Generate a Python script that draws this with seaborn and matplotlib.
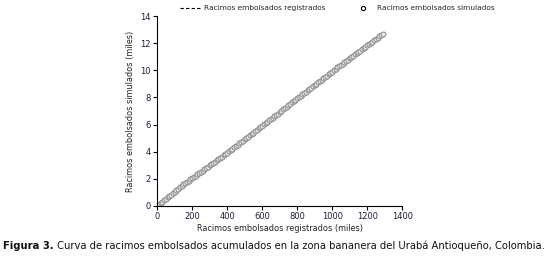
import matplotlib
matplotlib.use("Agg")
import matplotlib.pyplot as plt
import seaborn as sns
import pandas as pd
from matplotlib.lines import Line2D

# --- data (thousands of bunches) ---
sim_x = [0, 10, 20, 30, 40, 50, 60, 70, 80, 90, 100, 110, 120, 130, 140, 150, 160, 170, 180, 190,
         200, 210, 220, 230, 240, 250, 260, 270, 280, 290, 300, 310, 320, 330, 340, 350, 360, 370, 380, 390,
         400, 410, 420, 430, 440, 450, 460, 470, 480, 490, 500, 510, 520, 530, 540, 550, 560, 570, 580, 590,
         600, 610, 620, 630, 640, 650, 660, 670, 680, 690, 700, 710, 720, 730, 740, 750, 760, 770, 780, 790,
         800, 810, 820, 830, 840, 850, 860, 870, 880, 890, 900, 910, 920, 930, 940, 950, 960, 970, 980, 990,
         1000, 1010, 1020, 1030, 1040, 1050, 1060, 1070, 1080, 1090, 1100, 1110, 1120, 1130, 1140, 1150,
         1160, 1170, 1180, 1190, 1200, 1210, 1220, 1230, 1240, 1250, 1260, 1270, 1280, 1290]
sim_y = [0.00, 0.11, 0.21, 0.31, 0.42, 0.52, 0.62, 0.73, 0.84, 0.95, 1.06, 1.17, 1.28, 1.38, 1.48, 1.58,
         1.68, 1.77, 1.87, 1.97, 2.06, 2.15, 2.24, 2.33, 2.43, 2.52, 2.61, 2.70, 2.80, 2.89, 2.98, 3.07,
         3.17, 3.26, 3.35, 3.45, 3.55, 3.64, 3.73, 3.83, 3.93, 4.03, 4.12, 4.22, 4.32, 4.42, 4.52, 4.62,
         4.71, 4.81, 4.91, 5.01, 5.11, 5.21, 5.31, 5.41, 5.51, 5.61, 5.71, 5.81, 5.91, 6.01, 6.11, 6.21,
         6.31, 6.41, 6.51, 6.61, 6.71, 6.81, 6.92, 7.02, 7.13, 7.23, 7.33, 7.43, 7.53, 7.63, 7.73, 7.83,
         7.93, 8.03, 8.13, 8.22, 8.32, 8.42, 8.52, 8.62, 8.72, 8.81, 8.91, 9.01, 9.11, 9.21, 9.31, 9.41,
         9.51, 9.61, 9.71, 9.81, 9.91, 10.01, 10.11, 10.21, 10.31, 10.41, 10.50, 10.60, 10.69, 10.79,
         10.88, 10.98, 11.07, 11.17, 11.26, 11.36, 11.45, 11.55, 11.64, 11.74, 11.83, 11.93, 12.02,
         12.12, 12.21, 12.31, 12.40, 12.50, 12.60, 12.69]
reg_x = [0, 1290]
reg_y = [0.0, 12.72]

x_ticks = [0, 200, 400, 600, 800, 1000, 1200, 1400]
y_ticks = [0, 2, 4, 6, 8, 10, 12, 14]

sns.set_style("ticks")
plt.rcParams["font.family"] = ["DejaVu Sans"]

fig = plt.figure(figsize=(5.51, 2.59), dpi=100)
ax = fig.add_axes([0.285, 0.205, 0.445, 0.733])

df_sim = pd.DataFrame({"x": sim_x, "y": sim_y})
df_reg = pd.DataFrame({"x": reg_x, "y": reg_y})

sns.lineplot(data=df_reg, x="x", y="y", ax=ax, color="black", linestyle="--",
             linewidth=0.8, zorder=1)
sns.scatterplot(data=df_sim, x="x", y="y", ax=ax, marker="o", s=13,
                facecolor="#e6e6e6", edgecolor="#8a8a8a", linewidth=0.7, zorder=2)

ax.set_xlim(0, 1400)
ax.set_ylim(0, 14)
ax.set_xticks(x_ticks)
ax.set_yticks(y_ticks)
ax.tick_params(axis="both", direction="out", length=3, width=0.8, labelsize=6,
               pad=1.5, colors="black")
ax.tick_params(labelcolor="#1c1c3c")
for s in ["top", "right"]:
    ax.spines[s].set_visible(False)
for s in ["left", "bottom"]:
    ax.spines[s].set_linewidth(0.8)
    ax.spines[s].set_color("black")

ax.set_xlabel("Racimos embolsados registrados (miles)", fontsize=5.9, labelpad=2, color="#222222")
ax.set_ylabel("Racimos embolsados simulados (miles)", fontsize=5.9, labelpad=4, color="#222222")

handles = [Line2D([0], [0], color="black", linestyle="--", linewidth=0.8, dashes=(3, 2)),
           Line2D([0], [0], marker="o", linestyle="none", markersize=3,
                  markerfacecolor="white", markeredgecolor="black", markeredgewidth=0.8)]
labels = ["Racimos embolsados registrados", "Racimos embolsados simulados"]
fig.legend(handles, labels, loc="center left", bbox_to_anchor=(0.327, 0.968), ncol=2,
           frameon=False, fontsize=5.3, handlelength=2.8, handletextpad=0.5,
           columnspacing=3.6, borderpad=0, borderaxespad=0)

t1 = fig.text(0.006, 0.04, "Figura 3.", fontsize=7.2, fontweight="bold", color="#111111",
              va="baseline", ha="left")
fig.canvas.draw()
ax.annotate(" Curva de racimos embolsados acumulados en la zona bananera del Urabá Antioqueño, Colombia.",
            xy=(1, 0), xycoords=t1, va="bottom", ha="left", fontsize=7.2, color="#111111",
            annotation_clip=False)

fig.savefig("out.png", dpi=100)
